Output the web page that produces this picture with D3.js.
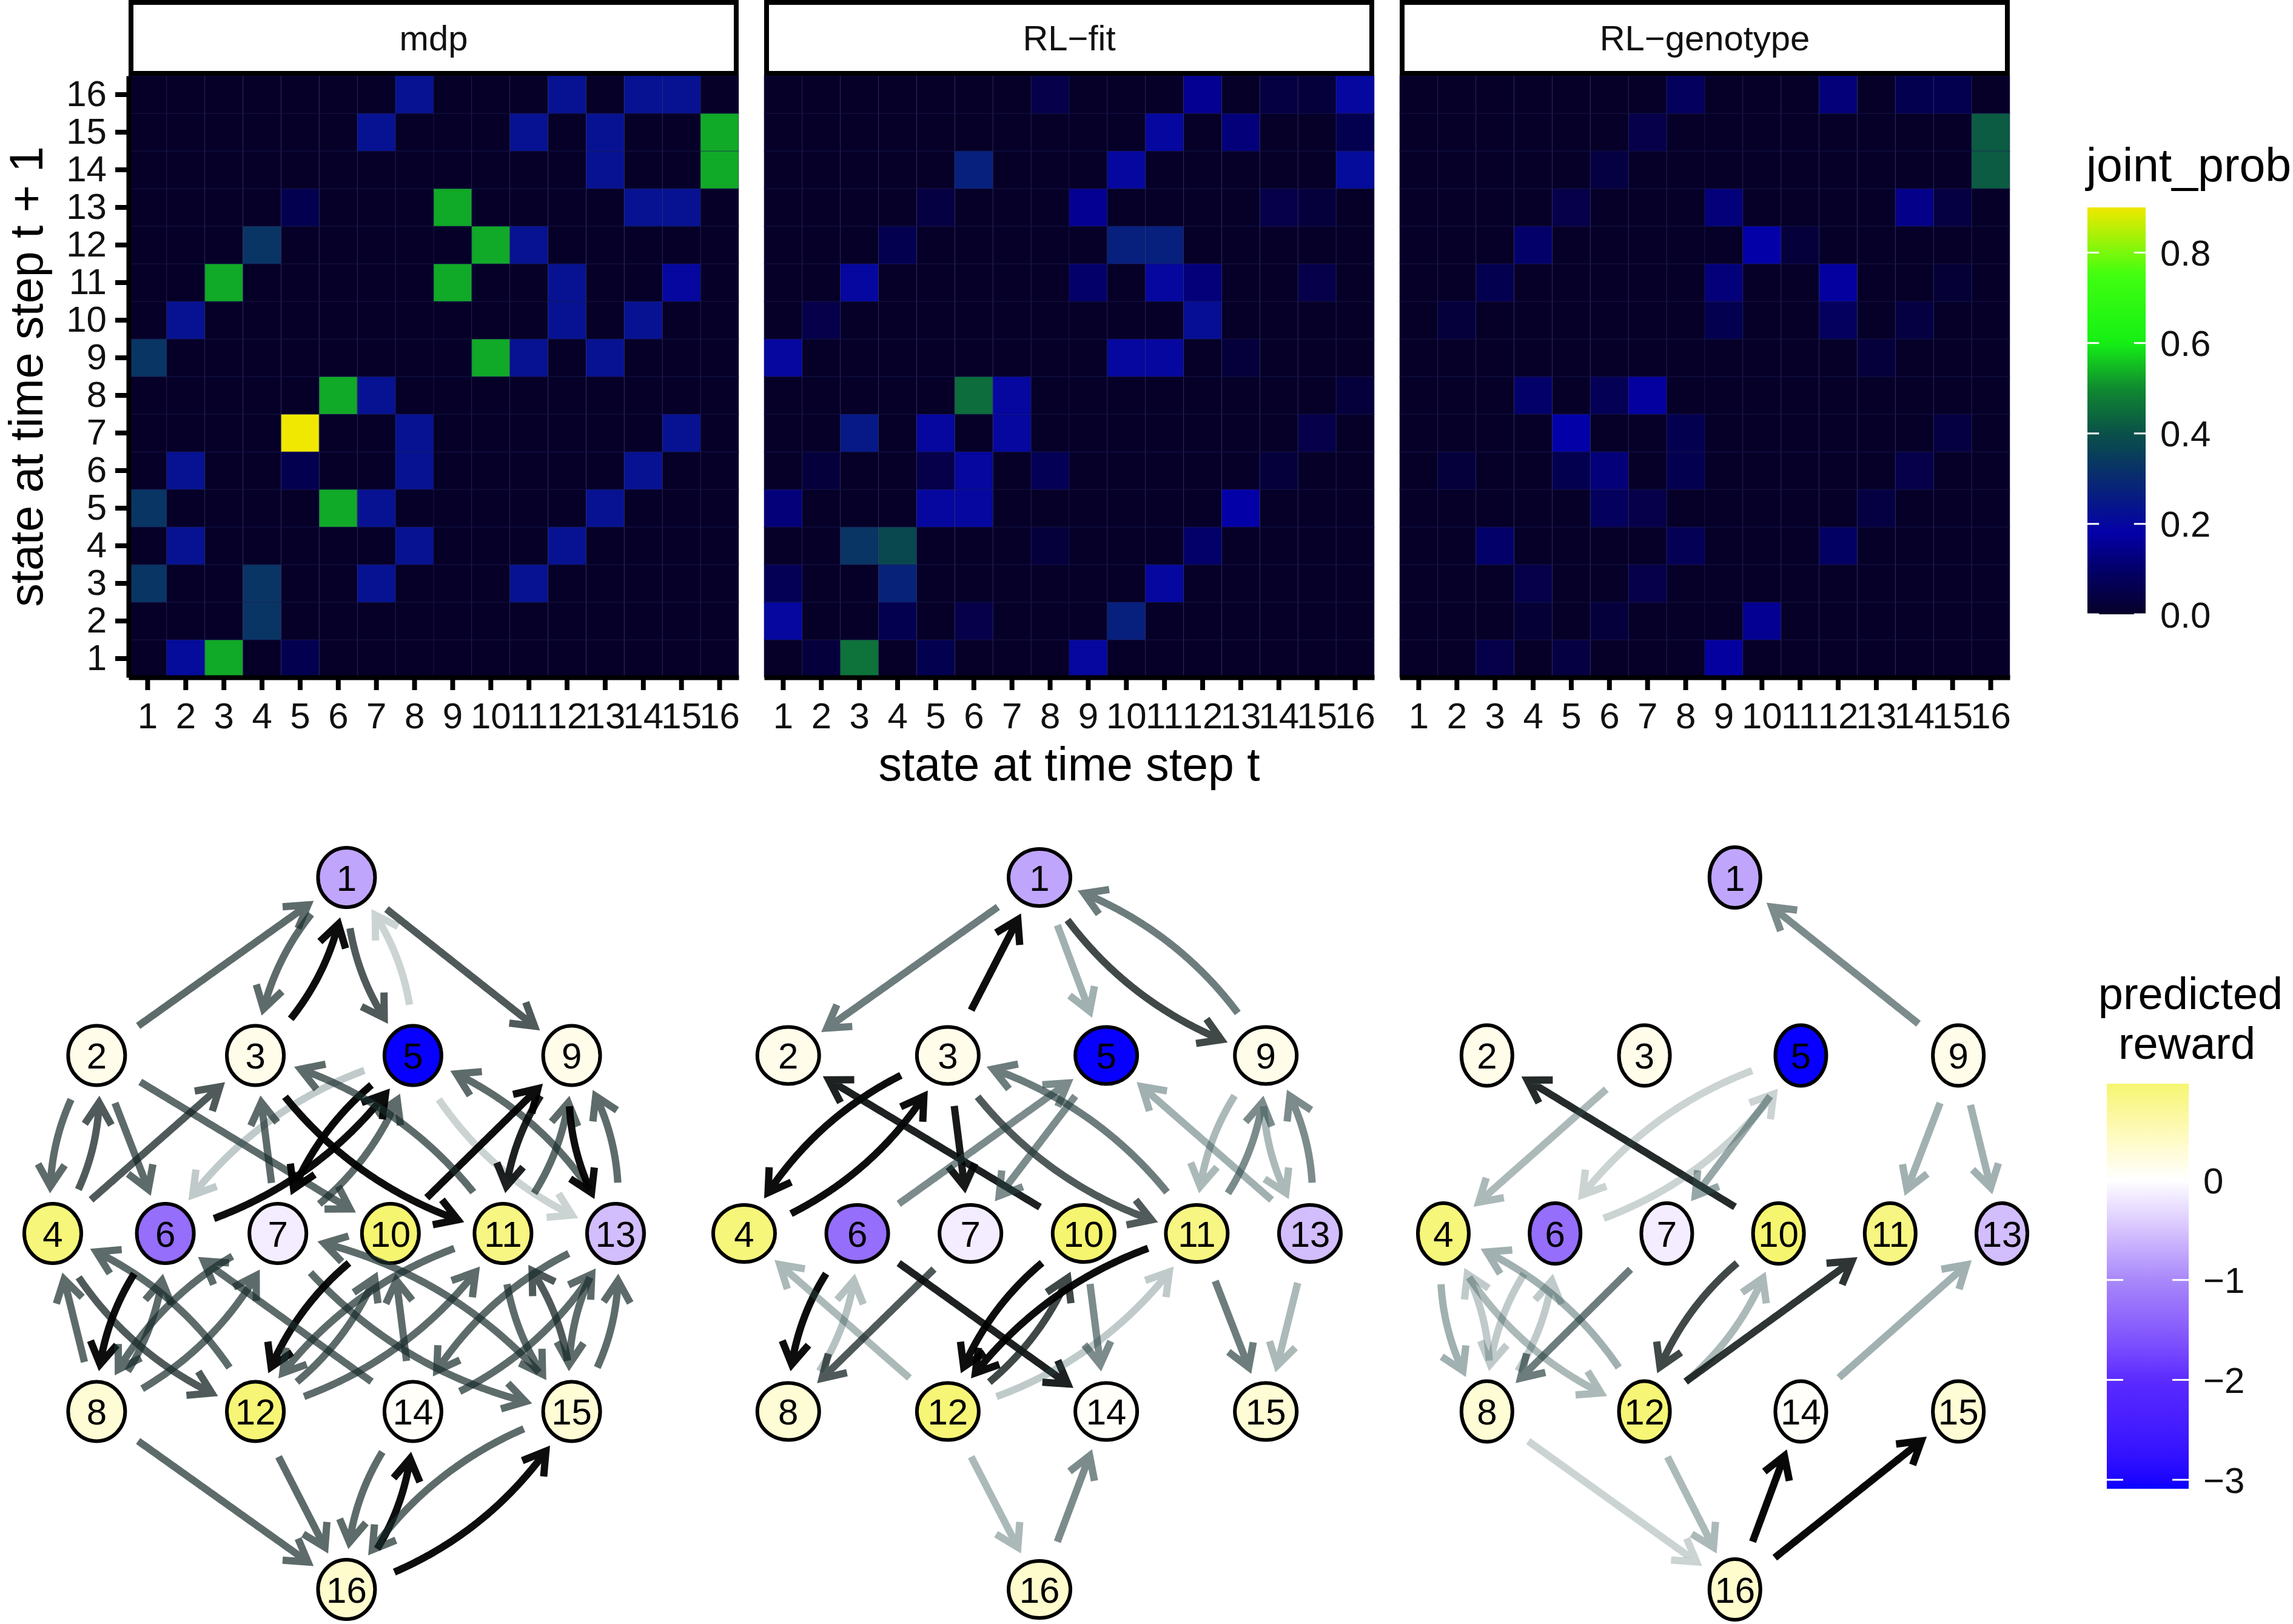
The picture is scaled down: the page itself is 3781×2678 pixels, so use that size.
<!DOCTYPE html>
<html>
<head>
<meta charset="utf-8">
<script src="https://cdn.jsdelivr.net/npm/d3@7"></script>
<style>
  body { margin: 0; background: #fff; }
  text { font-family: "Liberation Sans", Arial, Helvetica, sans-serif; }
</style>
</head>
<body>
<svg id="fig" width="3781" height="2678"></svg>
<script>
// ---- data ----
const states = [1, 2, 3, 4, 5, 6, 7, 8, 9, 10, 11, 12, 13, 14, 15, 16]
const panels = ["mdp", "RL\u2212fit", "RL\u2212genotype"]

// joint_prob, rows = state at t+1 (1..16), columns = state at t (1..16)
const mdpProb = [
  [0, .21, .53, 0, .06, 0, 0, 0, 0, 0, 0, 0, 0, 0, 0, 0],
  [0, 0, 0, .33, 0, 0, 0, 0, 0, 0, 0, 0, 0, 0, 0, 0],
  [.33, 0, 0, .33, 0, 0, .23, 0, 0, 0, .23, 0, 0, 0, 0, 0],
  [0, .23, 0, 0, 0, 0, 0, .23, 0, 0, 0, .23, 0, 0, 0, 0],
  [.33, 0, 0, 0, 0, .53, .23, 0, 0, 0, 0, 0, .23, 0, 0, 0],
  [0, .23, 0, 0, .06, 0, 0, .23, 0, 0, 0, 0, 0, .23, 0, 0],
  [0, 0, 0, 0, .9, 0, 0, .23, 0, 0, 0, 0, 0, 0, .23, 0],
  [0, 0, 0, 0, 0, .53, .23, 0, 0, 0, 0, 0, 0, 0, 0, 0],
  [.33, 0, 0, 0, 0, 0, 0, 0, 0, .53, .23, 0, .23, 0, 0, 0],
  [0, .23, 0, 0, 0, 0, 0, 0, 0, 0, 0, .23, 0, .23, 0, 0],
  [0, 0, .53, 0, 0, 0, 0, 0, .53, 0, 0, .23, 0, 0, .2, 0],
  [0, 0, 0, .33, 0, 0, 0, 0, 0, .53, .23, 0, 0, 0, 0, 0],
  [0, 0, 0, 0, .06, 0, 0, 0, .53, 0, 0, 0, 0, .23, .23, 0],
  [0, 0, 0, 0, 0, 0, 0, 0, 0, 0, 0, 0, .23, 0, 0, .53],
  [0, 0, 0, 0, 0, 0, .23, 0, 0, 0, .23, 0, .23, 0, 0, .53],
  [0, 0, 0, 0, 0, 0, 0, .23, 0, 0, 0, .23, 0, .23, .23, 0]
]
const rlFitProb = [
  [0, .03, .46, 0, .06, 0, 0, 0, .2, 0, 0, 0, 0, 0, 0, 0],
  [.2, 0, 0, .06, 0, .05, 0, 0, 0, .27, 0, 0, 0, 0, 0, 0],
  [.07, 0, 0, .28, 0, 0, 0, 0, 0, 0, .2, 0, 0, 0, 0, 0],
  [0, 0, .33, .38, 0, 0, 0, .03, 0, 0, 0, .1, 0, 0, 0, 0],
  [.12, 0, 0, 0, .2, .2, 0, 0, 0, 0, 0, 0, .18, 0, 0, 0],
  [0, .03, 0, 0, .05, .2, 0, .07, 0, 0, 0, 0, 0, .03, 0, 0],
  [0, 0, .25, 0, .2, 0, .2, 0, 0, 0, 0, 0, 0, 0, .05, 0],
  [0, 0, 0, 0, 0, .45, .2, 0, 0, 0, 0, 0, 0, 0, 0, .03],
  [.2, 0, 0, 0, 0, 0, 0, 0, 0, .2, .2, 0, .03, 0, 0, 0],
  [0, .05, 0, 0, 0, 0, 0, 0, 0, 0, 0, .22, 0, 0, 0, 0],
  [0, 0, .2, 0, 0, 0, 0, 0, .1, 0, .2, .12, 0, 0, .05, 0],
  [0, 0, 0, .06, 0, 0, 0, 0, 0, .27, .27, 0, 0, 0, 0, 0],
  [0, 0, 0, 0, .04, 0, 0, 0, .15, 0, 0, 0, 0, .05, .03, 0],
  [0, 0, 0, 0, 0, .27, 0, 0, 0, .2, 0, 0, 0, 0, 0, .21],
  [0, 0, 0, 0, 0, 0, 0, 0, 0, 0, .2, 0, .12, 0, 0, .06],
  [0, 0, 0, 0, 0, 0, 0, .05, 0, 0, 0, .15, 0, .04, .03, .2]
]
const rlGenoProb = [
  [0, 0, .05, 0, .04, 0, 0, 0, .17, 0, 0, 0, 0, 0, 0, 0],
  [0, 0, 0, .02, 0, .03, 0, 0, 0, .15, 0, 0, 0, 0, 0, 0],
  [0, 0, 0, .05, 0, 0, .05, 0, 0, 0, 0, 0, 0, 0, 0, 0],
  [0, 0, .1, 0, 0, 0, 0, .07, 0, 0, 0, .09, 0, 0, 0, 0],
  [0, 0, 0, 0, 0, .08, .05, 0, 0, 0, 0, 0, .04, 0, 0, 0],
  [0, .03, 0, 0, .06, .12, 0, .06, 0, 0, 0, 0, 0, .05, 0, 0],
  [0, 0, 0, 0, .18, 0, 0, .06, 0, 0, 0, 0, 0, 0, .04, 0],
  [0, 0, 0, .1, 0, .07, .17, 0, 0, 0, 0, 0, 0, 0, 0, 0],
  [0, 0, 0, 0, 0, 0, 0, 0, 0, 0, 0, 0, .03, 0, 0, 0],
  [0, .03, 0, 0, 0, 0, 0, 0, .06, 0, 0, .08, 0, .04, 0, 0],
  [0, 0, .06, 0, 0, 0, 0, 0, .12, 0, 0, .17, 0, 0, .02, 0],
  [0, 0, 0, .1, 0, 0, 0, 0, 0, .18, .03, 0, 0, 0, 0, 0],
  [0, 0, 0, 0, .05, 0, 0, 0, .12, 0, 0, 0, 0, .14, .04, 0],
  [0, 0, 0, 0, 0, .04, 0, 0, 0, 0, 0, 0, 0, 0, 0, .42],
  [0, 0, 0, 0, 0, 0, .05, 0, 0, 0, 0, 0, 0, 0, 0, .42],
  [0, 0, 0, 0, 0, 0, 0, .08, 0, 0, 0, .12, 0, .06, .06, 0]
]
const jointTicks = [0.0, 0.2, 0.4, 0.6, 0.8]
const jointRange = [0, 0.9]

// predicted reward of each state 1..16
const reward = [-0.75, 0.15, 0.15, 0.9, -3.09, -1.3, -0.15, 0.3, 0.15, 0.965, 0.85, 0.93, -0.55, 0.05, 0.3, 0.35]
const rewardTicks = [0, -1, -2, -3]

// transitions drawn on the state graphs: [from, to, weight]
const mdpEdges = [
  [2, 1, .7], [1, 3, .7], [3, 1, .95], [1, 5, .75], [5, 1, .25], [1, 9, .75],
  [2, 4, .7], [4, 2, .75], [2, 6, .7], [2, 10, .7],
  [4, 3, .75], [4, 12, .75], [12, 4, .7],
  [5, 7, .97], [7, 5, .7], [6, 5, .95], [5, 6, .3], [5, 13, .25], [13, 5, .7],
  [6, 8, .95], [8, 6, .7],
  [7, 3, .7], [7, 8, .7], [8, 7, .7], [7, 15, .7], [15, 7, .7],
  [8, 4, .7], [8, 16, .7],
  [9, 11, .9], [11, 9, .7], [9, 13, .95], [13, 9, .7],
  [10, 9, .95], [10, 12, .95], [12, 10, .7],
  [3, 11, .95], [11, 3, .7],
  [11, 12, .7], [12, 11, .7], [11, 15, .7], [15, 11, .75],
  [12, 16, .7],
  [13, 14, .7], [13, 15, .7], [15, 13, .7],
  [14, 6, .7], [14, 10, .7], [14, 13, .7], [14, 16, .7], [16, 14, .95],
  [15, 16, .7], [16, 15, .95]
]
const rlFitEdges = [
  [1, 2, .65], [3, 1, .95], [1, 5, .45], [1, 9, .8], [9, 1, .65],
  [3, 4, .95], [4, 3, .95], [10, 2, .9], [3, 7, .92], [3, 11, .75], [11, 3, .65],
  [6, 5, .6], [5, 7, .6], [11, 9, .6], [9, 11, .4], [13, 5, .45], [13, 9, .6], [9, 13, .4],
  [6, 8, .95], [8, 6, .35], [12, 4, .4], [7, 8, .75], [6, 14, .9],
  [10, 12, .95], [12, 10, .8], [11, 12, .95], [12, 11, .3],
  [10, 14, .6], [11, 15, .65], [13, 15, .4], [12, 16, .4], [16, 14, .6]
]
const rlGenoEdges = [
  [9, 1, .6], [10, 2, .88], [3, 4, .4], [5, 6, .25], [6, 5, .25], [5, 7, .5],
  [9, 11, .45], [9, 13, .45],
  [4, 8, .45], [8, 4, .3], [4, 12, .4], [12, 4, .45], [6, 8, .3], [8, 6, .3], [7, 8, .65],
  [10, 12, .8], [12, 10, .4], [12, 11, .85], [14, 13, .45],
  [8, 16, .25], [12, 16, .4], [16, 14, .97], [16, 15, .97]
]

// hypercube layout of the states: horizontal slot and layer
const nodeSlot = [2.61, 0.39, 1.8, 0, 3.2, 1, 2, 0.39, 4.61, 3, 4, 1.8, 5, 3.2, 4.61, 2.61]
const nodeLayer = [0, 1, 1, 2, 1, 2, 2, 3, 1, 2, 2, 3, 2, 3, 3, 4]

// ---- scales ----
const jointColor = d3.scaleLinear()
  .domain([0, 0.1, 0.18, 0.3, 0.4, 0.5, 0.6, 0.75, 0.9])
  .range(["#060028", "#03006a", "#0400a8", "#082a70", "#0a5048", "#108a30", "#14f014", "#40ff10", "#f0e800"])
  .clamp(true)
const rewardColor = d3.scaleLinear()
  .domain([-3.09, -2, -1, 0, 0.965])
  .range(["#0800ff", "#5a2aff", "#a888fa", "#ffffff", "#f5f570"])
  .interpolate(d3.interpolateLab)
  .clamp(true)
// edge shade: faint edges dark slate grey, strong ones black
const edgeShade = d3.scaleLinear().domain([0.5, 0.95]).range(["#2f4f4f", "#000000"]).clamp(true)

const svg = d3.select("#fig")
svg.append("rect").attr("width", 3781).attr("height", 2678).attr("fill", "#fff")

// ---- heatmaps ----
const heatTop = 125, heatH = 992, heatW = 1006
const heatLeft = [212, 1260, 2308]
const mats = [mdpProb, rlFitProb, rlGenoProb]

const styleAxis = g => {
  g.attr("font-family", '"Liberation Sans", Arial, sans-serif').attr("font-size", 60)
  g.select(".domain").attr("stroke", "#000").attr("stroke-width", 8)
  g.selectAll(".tick line").attr("stroke", "#000").attr("stroke-width", 8)
  g.selectAll(".tick text").attr("fill", "#111")
}

panels.forEach((name, i) => {
  const x0 = heatLeft[i]
  const xs = d3.scaleBand().domain(states).range([x0, x0 + heatW])
  const ys = d3.scaleBand().domain(states.slice().reverse()).range([heatTop, heatTop + heatH])
  const cells = []
  mats[i].forEach((row, r) => row.forEach((v, c) => cells.push({ t: states[c], t1: states[r], v: v })))

  const g = svg.append("g")
  g.selectAll("rect.cell").data(cells).join("rect")
    .attr("class", "cell")
    .attr("x", d => xs(d.t)).attr("y", d => ys(d.t1))
    .attr("width", xs.bandwidth()).attr("height", ys.bandwidth())
    .attr("fill", d => jointColor(d.v))
    .attr("stroke", "#20205a").attr("stroke-opacity", 0.35).attr("stroke-width", 1.5)

  // strip
  g.append("rect").attr("x", x0 + 4).attr("y", 4).attr("width", heatW - 8).attr("height", 117)
    .attr("fill", "#fff").attr("stroke", "#000").attr("stroke-width", 8)
  g.append("text").attr("x", x0 + heatW / 2).attr("y", 83).attr("text-anchor", "middle")
    .attr("font-size", 58).attr("fill", "#111").text(name)

  g.append("g").attr("transform", `translate(0,${heatTop + heatH})`)
    .call(d3.axisBottom(xs).tickSize(21).tickSizeOuter(0).tickPadding(20))
    .call(styleAxis)
  if (i === 0) {
    g.append("g").attr("transform", `translate(${x0},0)`)
      .call(d3.axisLeft(ys).tickSize(22).tickSizeOuter(0).tickPadding(14))
      .call(styleAxis)
  }
})

svg.append("text").attr("x", 1763).attr("y", 1287).attr("text-anchor", "middle")
  .attr("font-size", 77).attr("fill", "#000").text("state at time step t")
svg.append("text").attr("transform", "translate(70,621) rotate(-90)").attr("text-anchor", "middle")
  .attr("font-size", 77).attr("fill", "#000").text("state at time step t + 1")

// ---- colour bar legends ----
function colourBar(id, scale, lo, hi, x, y, w, h, ticks, fmt) {
  const grad = svg.append("defs").append("linearGradient").attr("id", id)
    .attr("x1", 0).attr("y1", 1).attr("x2", 0).attr("y2", 0)
  d3.range(0, 1.0001, 0.02).forEach(f => {
    grad.append("stop").attr("offset", f).attr("stop-color", scale(lo + f * (hi - lo)))
  })
  const ys = d3.scaleLinear().domain([lo, hi]).range([y + h, y])
  svg.append("rect").attr("x", x).attr("y", y).attr("width", w).attr("height", h).attr("fill", `url(#${id})`)
  ticks.forEach(t => {
    const ty = ys(t)
    svg.append("line").attr("x1", x).attr("x2", x + w / 5).attr("y1", ty).attr("y2", ty)
      .attr("stroke", "#fff").attr("stroke-width", 3)
    svg.append("line").attr("x1", x + w - w / 5).attr("x2", x + w).attr("y1", ty).attr("y2", ty)
      .attr("stroke", "#fff").attr("stroke-width", 3)
    svg.append("text").attr("x", x + w + 24).attr("y", ty).attr("dy", "0.36em")
      .attr("font-size", 60).attr("fill", "#111").text(fmt(t))
  })
}
svg.append("text").attr("x", 3440).attr("y", 299).attr("font-size", 77).attr("fill", "#000").text("joint_prob")
colourBar("gJoint", jointColor, jointRange[0], jointRange[1], 3442, 342, 96, 671, jointTicks, d => d.toFixed(1))

svg.append("text").attr("x", 3612).attr("y", 1664).attr("text-anchor", "middle")
  .attr("font-size", 74).attr("fill", "#000").text("predicted")
svg.append("text").attr("x", 3606).attr("y", 1746).attr("text-anchor", "middle")
  .attr("font-size", 74).attr("fill", "#000").text("reward")
colourBar("gReward", rewardColor, -3.09, 0.965, 3474, 1787, 135, 668, rewardTicks,
  d => d < 0 ? "\u2212" + Math.abs(d) : String(d))

// ---- state graphs ----
const graphX = [[87, 1015], [1227, 2160], [2380, 3301]]
const graphY = d3.scaleLinear().domain([0, 4]).range([1447, 2621])
const nodeR = [[47, 49], [51, 47], [42, 50]]
const edgeSets = [mdpEdges, rlFitEdges, rlGenoEdges]

function trimmedCurve(p0, p1, bend, cap0, cap1) {
  const dx = p1[0] - p0[0], dy = p1[1] - p0[1]
  const c = [(p0[0] + p1[0]) / 2 - dy * bend, (p0[1] + p1[1]) / 2 + dx * bend]
  const pts = []
  for (let k = 0; k <= 120; k++) {
    const t = k / 120, a = (1 - t) * (1 - t), b = 2 * (1 - t) * t, e = t * t
    pts.push([a * p0[0] + b * c[0] + e * p1[0], a * p0[1] + b * c[1] + e * p1[1]])
  }
  const cum = [0]
  for (let k = 1; k < pts.length; k++) cum.push(cum[k - 1] + Math.hypot(pts[k][0] - pts[k - 1][0], pts[k][1] - pts[k - 1][1]))
  const total = cum[cum.length - 1]
  const at = s => {
    let k = 1
    while (k < cum.length - 1 && cum[k] < s) k++
    const f = (s - cum[k - 1]) / (cum[k] - cum[k - 1])
    return [pts[k - 1][0] + f * (pts[k][0] - pts[k - 1][0]), pts[k - 1][1] + f * (pts[k][1] - pts[k - 1][1])]
  }
  const out = [at(cap0)]
  for (let k = 0; k < pts.length; k++) if (cum[k] > cap0 && cum[k] < total - cap1) out.push(pts[k])
  out.push(at(total - cap1))
  return out
}

edgeSets.forEach((edges, i) => {
  const xs = d3.scaleLinear().domain([0, 5]).range(graphX[i])
  const pos = states.map((s, k) => [xs(nodeSlot[k]), graphY(nodeLayer[k])])
  const g = svg.append("g")

  // nodes
  const nodes = g.append("g").selectAll("g").data(states).join("g")
    .attr("transform", (s, k) => `translate(${pos[k][0]},${pos[k][1]})`)
  nodes.append("ellipse").attr("rx", nodeR[i][0]).attr("ry", nodeR[i][1])
    .attr("fill", (s, k) => rewardColor(reward[k])).attr("stroke", "#000").attr("stroke-width", 6)
  nodes.append("text").attr("text-anchor", "middle").attr("dy", "0.36em")
    .attr("font-size", 60).attr("fill", "#000").text(s => s)

  // edges
  const keys = new Set(edges.map(e => e[0] + "-" + e[1]))
  const line = d3.line()
  g.append("g").selectAll("path").data(edges).join("path")
    .attr("d", e => {
      const p0 = pos[e[0] - 1], p1 = pos[e[1] - 1]
      const curved = keys.has(e[1] + "-" + e[0])
      const pts = trimmedCurve(p0, p1, curved ? 0.2 : 0, 84, 78)
      const n = pts.length
      const end = pts[n - 1], prev = pts[n - 3] || pts[0]
      const ang = Math.atan2(end[1] - prev[1], end[0] - prev[0])
      const arm = 42, spread = 0.55
      const a1 = [end[0] - arm * Math.cos(ang - spread), end[1] - arm * Math.sin(ang - spread)]
      const a2 = [end[0] - arm * Math.cos(ang + spread), end[1] - arm * Math.sin(ang + spread)]
      return line(pts) + "M" + a1 + "L" + end + "L" + a2
    })
    .attr("fill", "none")
    .attr("stroke", e => edgeShade(e[2]))
    .attr("stroke-opacity", e => e[2])
    .attr("stroke-width", 12)
    .attr("stroke-linejoin", "miter")
})
</script>
</body>
</html>
